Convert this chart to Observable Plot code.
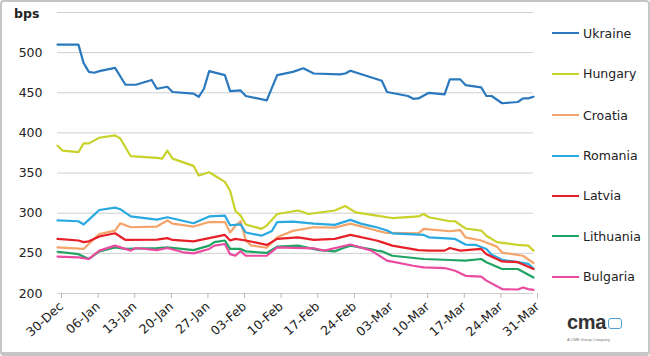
<!DOCTYPE html>
<html>
<head>
<meta charset="utf-8">
<script src="https://cdn.jsdelivr.net/npm/d3@7"></script>
<script src="https://cdn.jsdelivr.net/npm/@observablehq/plot@0.6"></script>
<style>
  html, body { margin: 0; padding: 0; background: #fff; }
  #page { position: relative; width: 650px; height: 356px; overflow: hidden; font-family: "DejaVu Sans", sans-serif; }
  #frame { position: absolute; left: 0; top: 0; width: 650px; height: 356px; box-sizing: border-box;
           border: 2px solid #c6c6c6; border-bottom-width: 4px; border-radius: 4px; pointer-events: none; }
  #chart { position: absolute; left: 0; top: 0; }
  #unit { position: absolute; left: 14px; top: 6px; font-weight: bold; font-size: 12.5px; color: #222; }
  .leg { position: absolute; left: 552px; height: 16px; display: flex; align-items: center; font-size: 12.5px; color: #222; white-space: nowrap; }
  .leg span.sw { display: inline-block; width: 27px; height: 2px; margin-right: 4px; }
  #logo { position: absolute; left: 567px; top: 315px; }
  #logo .cma { font-family: "Liberation Sans", sans-serif; font-weight: bold; font-size: 20px; color: #333; line-height: 15px; height: 15px; display: inline-block; vertical-align: top; letter-spacing: -0.3px; }
  #logo .box { display: inline-block; width: 12px; height: 9px; border: 1.6px solid #4e9fd8; border-radius: 3px; margin-left: 2px; margin-top: 3px; vertical-align: top; }
  #logo .sub { font-family: "Liberation Sans", sans-serif; font-size: 4px; line-height: 5px; color: #777; margin-top: 3px; }
</style>
</head>
<body>
<div id="page">
  <div id="chart"></div>
  <div id="unit">bps</div>
  <div id="legend"></div>
  <div id="logo"><span class="cma">cma</span><span class="box"></span><div class="sub">A CME Group Company</div></div>
  <div id="frame"></div>
</div>
<script>
// ---- data (spreads in bps, dates as MM-DD; Dec = 2008, others = 2009) ----
const countries = ["Ukraine", "Hungary", "Croatia", "Romania", "Latvia", "Lithuania", "Bulgaria"];
const seriesColors = ["#2a78bd", "#c8d22a", "#f4a46a", "#2aa9e0", "#e62028", "#1fa463", "#ea4aa0"];

const ukraine = [["12-30",510],["01-03",510],["01-04",487],["01-05",476],["01-06",475],["01-07",477],["01-10",481],
  ["01-12",460],["01-14",460],["01-17",466],["01-18",455],["01-20",457.5],["01-21",451],["01-25",449],["01-26",445],
  ["01-27",455],["01-28",477],["01-31",472],["02-01",452],["02-03",453],["02-04",446],["02-08",440.5],["02-10",472],
  ["02-13",476],["02-15",480.5],["02-17",474],["02-22",473],["02-23",474],["02-24",477.5],["03-02",465],["03-03",451],
  ["03-07",446],["03-08",442.5],["03-09",443],["03-11",450],["03-14",448],["03-15",466.7],["03-17",466.7],["03-18",459.6],
  ["03-21",456.7],["03-22",446],["03-23",446],["03-25",437],["03-28",438.5],["03-29",443],["03-30",443],["03-31",445]];

const hungary = [["12-30",384],["12-31",378],["01-03",376],["01-04",387],["01-05",387],["01-07",394],["01-10",397],
  ["01-11",393],["01-13",371],["01-18",369],["01-19",368],["01-20",378],["01-21",368],["01-25",359],["01-26",347],
  ["01-28",351],["01-31",339],["02-01",328],["02-02",303],["02-03",297],["02-04",286],["02-07",280.5],["02-08",284.6],
  ["02-10",299],["02-14",303.4],["02-16",299],["02-21",303.4],["02-23",309],["02-25",301],["03-01",297],["03-04",294],
  ["03-09",296],["03-10",299],["03-11",295],["03-15",290],["03-16",290],["03-18",281],["03-21",278.4],["03-22",272],
  ["03-24",264],["03-28",260.5],["03-30",259.6],["03-31",253.4]];

const croatia = [["12-30",257.5],["01-04",255.5],["01-05",262],["01-07",274],["01-10",278.4],["01-11",287.5],["01-13",282.5],
  ["01-18",283.4],["01-20",291],["01-21",287],["01-25",283.4],["01-28",289],["01-31",289],["02-01",276],["02-02",284],
  ["02-03",290],["02-04",266],["02-05",260],["02-08",257],["02-10",270],["02-13",278],["02-17",282.5],["02-21",282],
  ["02-24",287],["03-01",278.4],["03-03",275.4],["03-09",275],["03-10",280.5],["03-15",277.5],["03-17",279],["03-18",270],
  ["03-21",266],["03-24",258.4],["03-25",251],["03-29",247],["03-31",238]];

const romania = [["12-30",291],["01-03",290],["01-04",286],["01-05",292],["01-07",304],["01-10",307],["01-11",305],
  ["01-13",296],["01-18",292],["01-20",295],["01-25",287.5],["01-28",296],["01-31",297],["02-01",285],["02-03",286],
  ["02-04",276],["02-07",272],["02-09",278],["02-10",289],["02-13",289.6],["02-17",287],["02-21",285.5],["02-24",291.7],
  ["02-26",287],["02-28",284],["03-01",282.5],["03-03",278.4],["03-04",275],["03-10",273],["03-11",270],["03-16",268],
  ["03-18",261],["03-20",260.5],["03-22",255.5],["03-23",248.4],["03-25",242],["03-28",239],["03-30",237],["03-31",231]];

const latvia = [["12-30",268],["01-03",266],["01-04",264],["01-05",265],["01-07",271],["01-10",275],["01-12",266.7],
  ["01-18",267],["01-20",269],["01-21",266.7],["01-25",265],["01-28",269],["01-31",273],["02-01",266],["02-02",268],
  ["02-04",266],["02-08",260.5],["02-10",268],["02-14",270],["02-17",266.7],["02-21",268],["02-24",273],["03-01",266],
  ["03-02",264],["03-04",259.6],["03-09",254],["03-11",253.4],["03-14",253.4],["03-15",256.7],["03-17",253.4],
  ["03-21",255.5],["03-22",249],["03-25",240],["03-28",239],["03-31",230.5]];

const lithuania = [["12-30",252],["01-03",249],["01-05",243],["01-07",252.5],["01-10",257.5],["01-12",255.5],["01-18",256.7],
  ["01-20",257.5],["01-25",254],["01-28",259.6],["01-29",264],["01-31",266],["02-01",255.5],["02-03",255.5],["02-04",252.5],
  ["02-08",250.5],["02-10",258.4],["02-14",259.6],["02-18",254],["02-21",252.5],["02-23",257.5],["02-24",259.6],
  ["02-28",255],["03-01",253.5],["03-02",252.5],["03-04",247],["03-10",243],["03-15",241.7],["03-18",241],["03-21",243],
  ["03-22",239],["03-25",230.5],["03-28",230.5],["03-31",220]];

const bulgaria = [["12-30",246],["01-03",245],["01-05",243],["01-07",253.4],["01-10",259.6],["01-13",253.4],["01-14",256.7],
  ["01-18",254],["01-20",256.7],["01-23",251.3],["01-25",250],["01-28",255.5],["01-29",259.6],["01-31",261.7],["02-01",249],
  ["02-02",247],["02-03",253],["02-04",247],["02-08",247],["02-10",257.5],["02-17",256.3],["02-19",253.4],["02-24",261],
  ["02-28",253.4],["03-03",241],["03-08",234.6],["03-10",232.5],["03-14",231.7],["03-16",228.4],["03-18",222],["03-21",221],
  ["03-22",216],["03-25",205.5],["03-28",205],["03-29",207.5],["03-30",205.5],["03-31",204.6]];

const seriesValues = [ukraine, hungary, croatia, romania, latvia, lithuania, bulgaria];
const yGrid = [200, 250, 300, 350, 400, 450, 500, 550];
const yTickLabels = [200, 250, 300, 350, 400, 450, 500];
const xTickLabels = ["12-30","01-06","01-13","01-20","01-27","02-03","02-10","02-17","02-24","03-03","03-10","03-17","03-24","03-31"];

// ---- build ----
const parseDay = s => new Date(Date.UTC(s.startsWith("12") ? 2008 : 2009, +s.slice(0,2) - 1, +s.slice(3,5)));
const rows = [];
countries.forEach((c, i) => seriesValues[i].forEach(([d, v]) => rows.push({country: c, date: parseDay(d), bps: v})));
const xTicks = xTickLabels.map(parseDay);

const chart = Plot.plot({
  width: 650,
  height: 356,
  marginLeft: 57,
  marginRight: 117,
  marginTop: 12,
  marginBottom: 63,
  style: {fontFamily: "DejaVu Sans, sans-serif", fontSize: "12.5px", color: "#222", background: "transparent", overflow: "visible"},
  x: {type: "utc", domain: [parseDay("12-30"), parseDay("03-31")]},
  y: {domain: [200, 550]},
  color: {domain: countries, range: seriesColors},
  marks: [
    Plot.ruleY(yGrid, {stroke: "#cfcfcf", strokeWidth: 1}),
    Plot.axisY(yTickLabels, {tickSize: 0, tickPadding: 15, label: null, fill: "#222"}),
    Plot.axisX(xTicks, {tickFormat: d3.utcFormat("%d-%b"), tickRotate: -42, tickSize: 5, tickPadding: 6, dx: 4, stroke: "#b8b8b8", label: null, fill: "#222"}),
    Plot.line(rows, {x: "date", y: "bps", z: "country", stroke: "country", strokeWidth: 2.2, strokeLinejoin: "round", strokeLinecap: "round"})
  ]
});
document.getElementById("chart").appendChild(chart);

// ---- legend ----
const legendTops = [33.3, 73.7, 115, 155.7, 195.7, 236, 276.7];
const legend = document.getElementById("legend");
countries.forEach((c, i) => {
  const d = document.createElement("div");
  d.className = "leg";
  d.style.top = (legendTops[i] - 8) + "px";
  d.innerHTML = `<span class="sw" style="background:${seriesColors[i]}"></span>${c}`;
  legend.appendChild(d);
});
</script>
</body>
</html>
